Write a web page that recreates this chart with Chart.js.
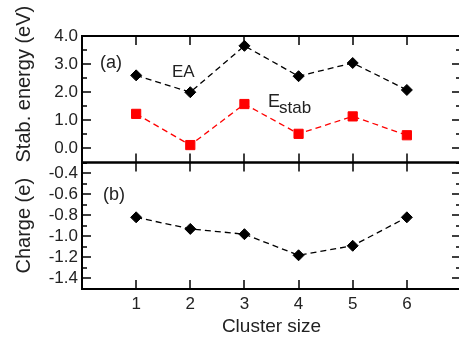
<!DOCTYPE html>
<html><head><meta charset="utf-8">
<script src="https://cdn.jsdelivr.net/npm/chart.js@4.4.1/dist/chart.umd.min.js"></script>
<style>html,body{margin:0;padding:0;overflow:hidden;background:#fff}canvas{display:block}</style>
</head><body>
<canvas id="c" width="470" height="343"></canvas>
<script>
// ---- data ----
const clusterSizes = [1, 2, 3, 4, 5, 6];
const eaValues = [2.60, 2.00, 3.65, 2.57, 3.04, 2.08];
const estabValues = [1.23, 0.12, 1.58, 0.52, 1.14, 0.47];
const chargeValues = [-0.82, -0.93, -0.98, -1.18, -1.09, -0.82];
const xTickValues = [1, 2, 3, 4, 5, 6];
const energyTicks = [0, 1, 2, 3, 4];
const energyMinorTicks = [-0.5, 0.5, 1.5, 2.5, 3.5];
const chargeTicks = [-1.4, -1.2, -1.0, -0.8, -0.6, -0.4];
const chargeMinorTicks = [-1.5, -1.3, -1.1, -0.9, -0.7, -0.5, -0.3];

const FONT = 'Liberation Sans, Arial, Helvetica, sans-serif';
const TXT = '#222';

function pts(ys) { return clusterSizes.map((x, i) => ({ x: x, y: ys[i] })); }

function drawFrame(chart) {
  const ctx = chart.ctx;
  const area = chart.chartArea;
  const xs = chart.scales.x, yT = chart.scales.yTop, yB = chart.scales.yBot;
  const L = area.left, R = area.right;
  ctx.save();
  ctx.fillStyle = '#000';
  const hTick = (x, y, len) => { ctx.fillRect(Math.min(x, x + len), Math.round(y) - 0.75, Math.abs(len), 1.5); };
  const vTick = (x, y, len) => { ctx.fillRect(Math.round(x) - 0.75, Math.min(y, y + len), 1.5, Math.abs(len)); };
  const yTicks = (s, major, minor) => {
    for (const v of major) { const p = s.getPixelForValue(v); hTick(L, p, 9); hTick(R, p, -9); }
    for (const v of minor) { const p = s.getPixelForValue(v); hTick(L, p, 5); hTick(R, p, -5); }
  };
  yTicks(yT, energyTicks, energyMinorTicks);
  yTicks(yB, chargeTicks, chargeMinorTicks);
  for (const v of xTickValues) {
    const p = xs.getPixelForValue(v);
    vTick(p, yT.top, 9);
    vTick(p, yT.bottom - 9, 18);
    vTick(p, yB.bottom, -9);
  }
  ctx.setLineDash([]);
  ctx.strokeStyle = '#000';
  ctx.lineWidth = 2;
  ctx.strokeRect(L, yT.top, R - L, yT.bottom - yT.top);
  ctx.strokeRect(L, yB.top, R - L, yB.bottom - yB.top);
  ctx.restore();
}

function drawNotes(chart) {
  const ctx = chart.ctx;
  ctx.save();
  ctx.fillStyle = TXT;
  ctx.textAlign = 'left';
  ctx.textBaseline = 'alphabetic';
  ctx.font = '18px ' + FONT;
  ctx.fillText('(a)', 100, 68);
  ctx.fillText('(b)', 103, 200);
  ctx.font = '17px ' + FONT;
  ctx.fillText('EA', 172, 77);
  ctx.font = '18px ' + FONT;
  ctx.fillText('E', 268, 107);
  ctx.font = '17px ' + FONT;
  ctx.fillText('stab', 279, 113);
  ctx.restore();
}

const framePlugin = {
  id: 'frame',
  afterDraw(chart) { drawFrame(chart); drawNotes(chart); }
};

const tickFont = { family: FONT, size: 17 };

new Chart(document.getElementById('c'), {
  type: 'line',
  data: {
    datasets: [
      { label: 'EA', data: pts(eaValues), yAxisID: 'yTop', borderColor: '#000', backgroundColor: '#000',
        borderWidth: 1.3, borderDash: [6, 4], pointStyle: 'rectRot', pointRadius: 5.5, pointBorderWidth: 1, tension: 0 },
      { label: 'Estab', data: pts(estabValues), yAxisID: 'yTop', borderColor: '#ff0000', backgroundColor: '#ff0000',
        borderWidth: 1.3, borderDash: [6, 4], pointStyle: 'rect', pointRadius: 6.5, pointBorderWidth: 1, tension: 0 },
      { label: 'Charge', data: pts(chargeValues), yAxisID: 'yBot', borderColor: '#000', backgroundColor: '#000',
        borderWidth: 1.3, borderDash: [6, 4], pointStyle: 'rectRot', pointRadius: 5.5, pointBorderWidth: 1, tension: 0 }
    ]
  },
  options: {
    responsive: false,
    animation: false,
    layout: { padding: { top: 36, right: 9, left: 0, bottom: 0 } },
    plugins: { legend: { display: false }, tooltip: { enabled: false } },
    scales: {
      x: {
        type: 'linear', min: 0, max: 7, position: 'bottom',
        grid: { display: false, drawTicks: false }, border: { display: false },
        afterBuildTicks: s => { s.ticks = xTickValues.map(v => ({ value: v })); },
        afterFit: s => { s.height = 54; },
        ticks: { font: tickFont, color: TXT, padding: 5, maxRotation: 0, autoSkip: false, callback: v => String(v) },
        title: { display: true, text: 'Cluster size', font: { family: FONT, size: 19 }, color: TXT, padding: { top: 0, bottom: 5 } }
      },
      yBot: {
        type: 'linear', position: 'left', stack: 'panels', stackWeight: 1, min: -1.5, max: -0.3,
        grid: { display: false, drawTicks: false }, border: { display: false },
        afterBuildTicks: s => { s.ticks = chargeTicks.map(v => ({ value: v })); },
        afterFit: s => { s.width = 82; },
        ticks: { font: tickFont, color: TXT, padding: 4, autoSkip: false, callback: v => Number(v).toFixed(1) },
        title: { display: true, text: 'Charge (e)', font: { family: FONT, size: 20 }, color: TXT, padding: { top: 12, bottom: 0 } }
      },
      yTop: {
        type: 'linear', position: 'left', stack: 'panels', stackWeight: 1, min: -0.5, max: 4.0,
        grid: { display: false, drawTicks: false }, border: { display: false },
        afterBuildTicks: s => { s.ticks = energyTicks.map(v => ({ value: v })); },
        afterFit: s => { s.width = 82; },
        ticks: { font: tickFont, color: TXT, padding: 4, autoSkip: false, callback: v => Number(v).toFixed(1) },
        title: { display: true, text: 'Stab. energy (eV)', align: 'start', font: { family: FONT, size: 20 }, color: TXT, padding: { top: 12, bottom: 0 } }
      }
    }
  },
  plugins: [framePlugin]
});
</script>
</body></html>
